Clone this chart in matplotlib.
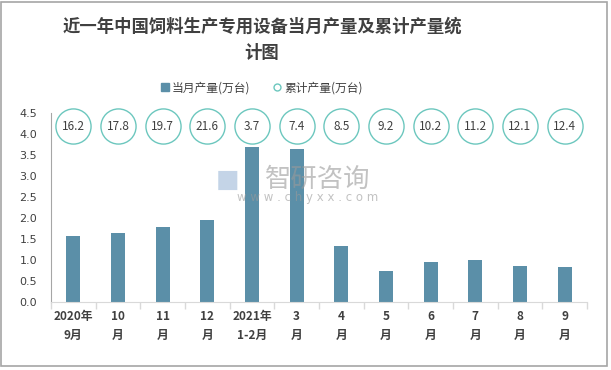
import numpy as np
import matplotlib.pyplot as plt
from matplotlib.patches import Rectangle
from matplotlib.lines import Line2D

plt.rcParams['font.family'] = ['Noto Sans CJK SC', 'DejaVu Sans']

# 数据
categories = ['2020年\n9月', '10\n月', '11\n月', '12\n月', '2021年\n1-2月', '3\n月',
              '4\n月', '5\n月', '6\n月', '7\n月', '8\n月', '9\n月']
monthly = [1.57, 1.65, 1.79, 1.96, 3.70, 3.64, 1.34, 0.74, 0.95, 1.00, 0.86, 0.84]
cumulative = [16.2, 17.8, 19.7, 21.6, 3.7, 7.4, 8.5, 9.2, 10.2, 11.2, 12.1, 12.4]
circle_level = 4.18

bar_color = '#5B8FA8'
circle_color = '#6CC7BE'
text_color = '#404040'

fig = plt.figure(figsize=(6.11, 3.70), dpi=100)
ax = fig.add_axes([0.0835, 0.1838, 0.8772, 0.5108])

x = np.arange(len(categories))
ax.bar(x, monthly, width=0.31, color=bar_color, zorder=2)
ax.scatter(x, [circle_level] * len(x), s=640, facecolor='white', edgecolor=circle_color,
           linewidth=1.0, zorder=3, clip_on=False)
for xi, v in zip(x, cumulative):
    ax.text(xi, circle_level, f'{v}', ha='center', va='center', fontsize=8.5,
            color=text_color, zorder=4)

ax.set_xlim(-0.5, len(x) - 0.5)
ax.set_ylim(0, 4.5)
ax.set_yticks(np.arange(0, 4.51, 0.5))
ax.set_yticklabels([f'{v:.1f}' for v in np.arange(0, 4.51, 0.5)], fontsize=8, color=text_color,
                   family=['DejaVu Sans'])
ax.set_xticks(x)
ax.set_xticklabels(categories, fontsize=8.5, fontweight='bold', color=text_color, linespacing=1.6)
ax.set_xticks(np.arange(-0.5, len(x), 1), minor=True)
ax.tick_params(axis='x', which='major', length=0, pad=6)
ax.tick_params(axis='x', which='minor', length=5, color='#D9D9D9', width=1)
ax.tick_params(axis='y', length=0, pad=10)

for s in ['top', 'right']:
    ax.spines[s].set_visible(False)
ax.spines['bottom'].set_color('#D9D9D9')
ax.spines['left'].set_color('#A6A6A6')

# 标题
fig.text(262 / 611, 1 - 27 / 370, '近一年中国饲料生产专用设备当月产量及累计产量统',
         ha='center', va='center', fontsize=12.5, fontweight='bold', color=text_color)
fig.text(262 / 611, 1 - 53 / 370, '计图', ha='center', va='center', fontsize=12.5,
         fontweight='bold', color=text_color)

# 图例
handles = [Line2D([], [], marker='s', linestyle='none', markersize=6, color=bar_color),
           Line2D([], [], marker='o', linestyle='none', markersize=5, markerfacecolor='white',
                  markeredgecolor=circle_color)]
fig.legend(handles, ['当月产量(万台)', '累计产量(万台)'], loc='center',
           bbox_to_anchor=(262 / 611, 1 - 88 / 370), ncol=2, frameon=False,
           fontsize=8.5, handlelength=0.6, handletextpad=0.3, columnspacing=2.0,
           labelcolor=text_color)

# 水印
fig.text(318 / 611, 1 - 179 / 370, '智研咨询', ha='center', va='center', fontsize=19,
         color='#9A9A9A', alpha=0.6, zorder=5)
fig.text(308 / 611, 1 - 198 / 370, 'w w w . c h y x x . c o m', ha='center', va='center',
         fontsize=8.5, color='#9A9A9A', alpha=0.6, zorder=5, family=['DejaVu Sans'])
fig.text(228 / 611, 1 - 180 / 370, '\u25a0', ha='center', va='center', fontsize=18,
         color='#9DB8D8', alpha=0.6, zorder=5, family=['DejaVu Sans'])

# 外框
fig.patches.append(Rectangle((1 / 611, 4 / 370), 606 / 611, 365 / 370 - 0.003,
                             transform=fig.transFigure, fill=False, edgecolor='#A6A6A6',
                             linewidth=1.2))

fig.savefig('out.png', dpi=100)
